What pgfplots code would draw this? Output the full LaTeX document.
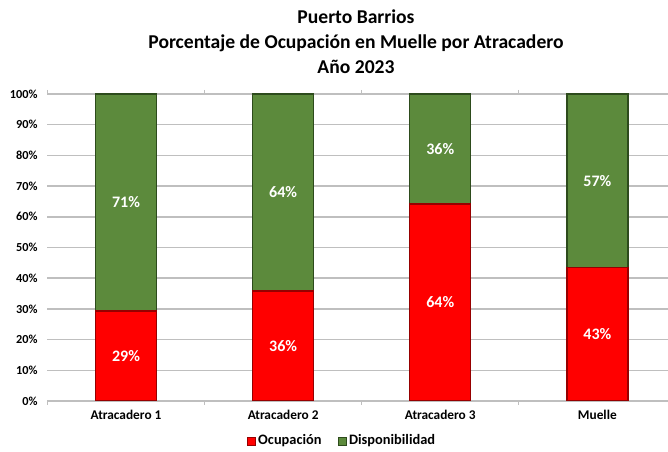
\documentclass[border=0pt]{standalone}
\usepackage{pgfplots}
\pgfplotsset{compat=1.18}
\usepackage{fontspec}
\setmainfont{Carlito}
\definecolor{ocup}{RGB}{255,0,0}
\definecolor{ocupdark}{RGB}{150,0,0}
\definecolor{disp}{RGB}{92,138,60}
\definecolor{dispdark}{RGB}{45,75,28}
\definecolor{gridc}{RGB}{191,191,191}

\pgfplotsset{
  base/.style={
    at={(35.625pt,38.25pt)}, anchor=south west,
    scale only axis, width=465.4pt, height=230.25pt,
    xmin=-0.5, xmax=3.45, ymin=0, ymax=100,
  }
}

\begin{document}
\begin{tikzpicture}[x=0.75pt,y=0.75pt]
\useasboundingbox (0,0) rectangle (668,452);

\node[font=\bfseries\fontsize{14.7}{18.75}\selectfont, align=center] at (356,410)
  {Puerto Barrios\\Porcentaje de Ocupación en Muelle por Atracadero\\Año 2023};

\begin{axis}[
  base,
  ybar stacked, bar width=45.75pt,
  axis line style={draw=none},
  ytick={0,10,...,100},
  yticklabel={\pgfmathprintnumber{\tick}\%},
  ymajorgrids, grid style={gridc, line width=1.1pt},
  xtick={0,1,2,3},
  xticklabels={Atracadero 1, Atracadero 2, Atracadero 3, Muelle},
  major tick length=0pt,
  extra x ticks={-0.5,0.5,1.5,2.5},
  extra x tick labels={},
  extra x tick style={major tick length=3pt, tick align=outside, tick style={gridc, line width=0.8pt}, grid=none},
  /pgf/number format/assume math mode=true,
  yticklabel style={font=\bfseries\fontsize{9.2}{10}\selectfont, xshift=-4pt},
  xticklabel style={font=\bfseries\fontsize{10}{12}\selectfont, yshift=-3pt},
  legend style={at={(0.475,-0.13)}, anchor=center, draw=none, fill=none,
    legend columns=2, font=\bfseries\fontsize{10.8}{12}\selectfont,
    /tikz/every even column/.append style={column sep=10pt}},
  legend image code/.code={\draw[#1, line width=0.6pt] (0pt,-3pt) rectangle (6pt,3pt);},
]
\addplot[fill=ocup, draw=ocupdark, line width=1pt] coordinates {(0,29.3) (1,35.8) (2,64.2) (3,43.4)};
\addplot[fill=disp, draw=dispdark, line width=1pt] coordinates {(0,70.7) (1,64.2) (2,35.8) (3,56.6)};
\legend{Ocupación, Disponibilidad}
\end{axis}

\begin{axis}[
  base, hide axis,
  nodes near coords, point meta=explicit symbolic,
  every node near coord/.append style={anchor=center, text=white,
    font=\bfseries\fontsize{12}{14}\selectfont},
]
\addplot[draw=none, mark=none] coordinates {
  (0,14.65) [29\%] (1,17.9) [36\%] (2,32.1) [64\%] (3,21.7) [43\%]
};
\addplot[draw=none, mark=none] coordinates {
  (0,64.65) [71\%] (1,67.9) [64\%] (2,82.1) [36\%] (3,71.7) [57\%]
};
\end{axis}
\end{tikzpicture}
\end{document}
